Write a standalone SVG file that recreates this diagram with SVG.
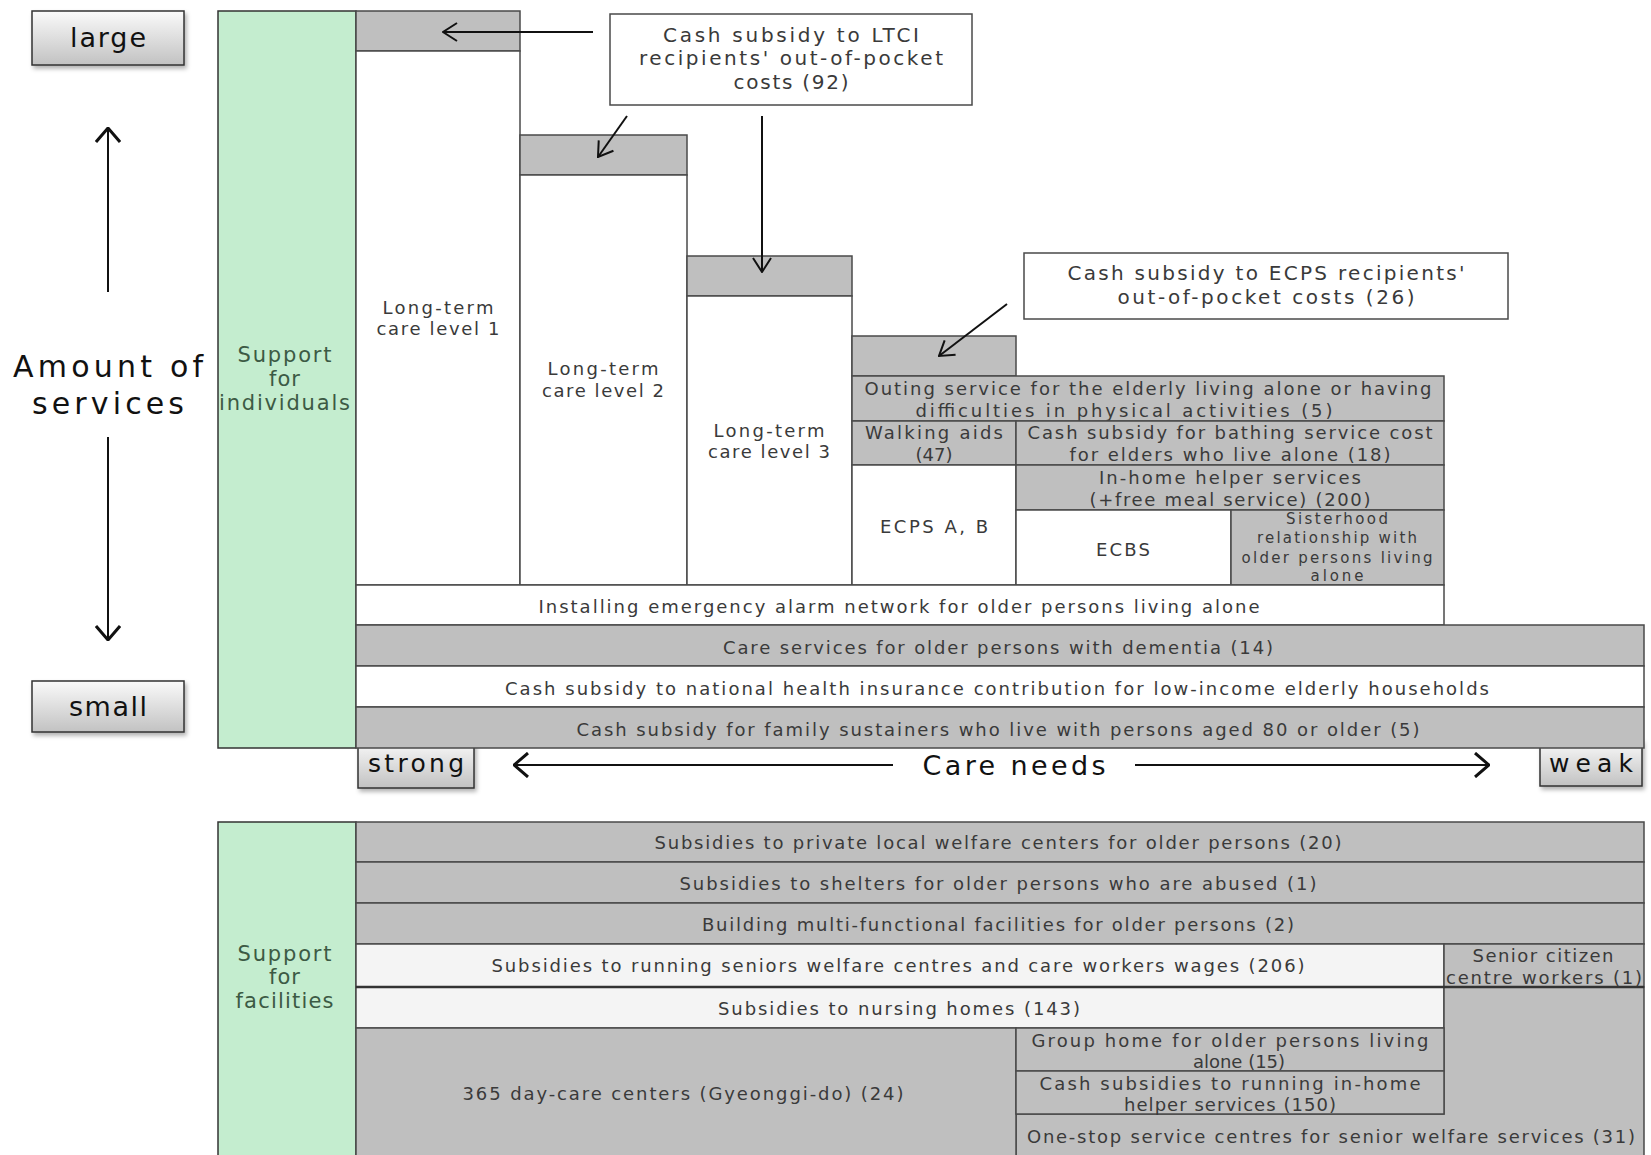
<svg xmlns="http://www.w3.org/2000/svg" width="1651" height="1155" viewBox="0 0 1651 1155">
<style>
.g{fill:#bfbfbf;stroke:#4a4a4a;stroke-width:1.5}
.w{fill:#ffffff;stroke:#4a4a4a;stroke-width:1.5}
.lt{fill:#f4f4f4;stroke:#4a4a4a;stroke-width:1.5}
.gr{fill:#c4edcf;stroke:#333;stroke-width:1.5}
.lb{fill:url(#lbg);stroke:#333;stroke-width:1.5;filter:url(#sh)}
.t{font-family:"DejaVu Sans","Noto Sans",sans-serif;font-size:18px;fill:#3a3a3a;text-anchor:middle;dominant-baseline:central}
.s{font-size:15px}
.m{font-size:20px}
.gt{fill:#3c5a44;font-size:21px;letter-spacing:1px}
.big{font-family:"DejaVu Sans","Liberation Sans",sans-serif;fill:#111;text-anchor:middle;dominant-baseline:central}
.ar{stroke:#111;stroke-width:2;fill:none}
</style>
<defs>
<linearGradient id="lbg" x1="0" y1="0" x2="0" y2="1">
<stop offset="0" stop-color="#fafafa"/>
<stop offset="1" stop-color="#c2c2c2"/>
</linearGradient>
<filter id="sh" x="-10%" y="-10%" width="130%" height="140%">
<feDropShadow dx="2" dy="3" stdDeviation="2" flood-color="#000" flood-opacity="0.3"/>
</filter>
<marker id="ah" viewBox="0 0 16 20" refX="15" refY="10" markerWidth="16" markerHeight="20" markerUnits="userSpaceOnUse" orient="auto">
<path d="M1,1 L15,10 L1,19" fill="none" stroke="#111" stroke-width="2"/>
</marker>
<marker id="ahb" viewBox="0 0 16 26" refX="15" refY="13" markerWidth="16" markerHeight="26" markerUnits="userSpaceOnUse" orient="auto">
<path d="M1,1 L15,13 L1,25" fill="none" stroke="#111" stroke-width="3"/>
</marker>
</defs>
<rect width="1651" height="1155" fill="#ffffff"/>

<!-- axis labels -->
<g id="large"><rect class="lb" x="32" y="11" width="152" height="54"/><text class="big" x="108" y="37" font-size="27" textLength="76" lengthAdjust="spacing">large</text></g>
<g id="small"><rect class="lb" x="32" y="681" width="152" height="51"/><text class="big" x="108" y="706" font-size="27" textLength="78" lengthAdjust="spacing">small</text></g>
<g id="amount"><text class="big" x="108" y="366" font-size="30" textLength="190" lengthAdjust="spacing">Amount of</text><text class="big" x="108" y="403" font-size="30" textLength="152" lengthAdjust="spacing">services</text></g>
<g id="strong"><rect class="lb" x="358" y="740" width="116" height="48"/><text class="big" x="416" y="763" font-size="25" textLength="96" lengthAdjust="spacing">strong</text></g>
<g id="weak"><rect class="lb" x="1540" y="740" width="102" height="46"/><text class="big" x="1591" y="763" font-size="25" textLength="84" lengthAdjust="spacing">weak</text></g>
<g id="careneeds"><text class="big" x="1014" y="765" font-size="27" textLength="183" lengthAdjust="spacing">Care needs</text></g>

<!-- support for individuals -->
<g id="individuals"><rect class="gr" x="218" y="11" width="138" height="737"/>
<text class="t gt" x="285" y="355" textLength="95" lengthAdjust="spacing">Support</text><text class="t gt" x="285" y="379">for</text><text class="t gt" x="285" y="403" textLength="132" lengthAdjust="spacing">individuals</text></g>

<g id="ltc1"><rect class="g" x="356" y="11" width="164" height="40"/><rect class="w" x="356" y="51" width="164" height="534"/>
<text class="t" x="438" y="307" textLength="111" lengthAdjust="spacing">Long-term</text><text class="t" x="438" y="328" textLength="123" lengthAdjust="spacing">care level 1</text></g>
<g id="ltc2"><rect class="g" x="520" y="135" width="167" height="40"/><rect class="w" x="520" y="175" width="167" height="410"/>
<text class="t" x="603" y="368" textLength="111" lengthAdjust="spacing">Long-term</text><text class="t" x="603" y="390" textLength="122" lengthAdjust="spacing">care level 2</text></g>
<g id="ltc3"><rect class="g" x="687" y="256" width="165" height="40"/><rect class="w" x="687" y="296" width="165" height="289"/>
<text class="t" x="769" y="430" textLength="111" lengthAdjust="spacing">Long-term</text><text class="t" x="769" y="451" textLength="122" lengthAdjust="spacing">care level 3</text></g>
<g id="ecpstop"><rect class="g" x="852" y="336" width="164" height="40"/></g>
<g id="outing"><rect class="g" x="852" y="376" width="592" height="45"/>
<text class="t" x="1148" y="388" textLength="567" lengthAdjust="spacing">Outing service for the elderly living alone or having</text>
<text class="t" x="1124" y="410" textLength="417" lengthAdjust="spacing">difficulties in physical activities (5)</text></g>
<g id="walking"><rect class="g" x="852" y="421" width="164" height="44"/>
<text class="t" x="934" y="432" textLength="138" lengthAdjust="spacing">Walking aids</text><text class="t" x="934" y="454">(47)</text></g>
<g id="bathing"><rect class="g" x="1016" y="421" width="428" height="44"/>
<text class="t" x="1230" y="432" textLength="405" lengthAdjust="spacing">Cash subsidy for bathing service cost</text>
<text class="t" x="1230" y="454" textLength="321" lengthAdjust="spacing">for elders who live alone (18)</text></g>
<g id="ecpsab"><rect class="w" x="852" y="465" width="164" height="120"/><text class="t" x="934" y="526" textLength="108" lengthAdjust="spacing">ECPS A, B</text></g>
<g id="inhome"><rect class="g" x="1016" y="465" width="428" height="45"/>
<text class="t" x="1230" y="477" textLength="262" lengthAdjust="spacing">In-home helper services</text>
<text class="t" x="1230" y="499" textLength="281" lengthAdjust="spacing">(+free meal service) (200)</text></g>
<g id="ecbs"><rect class="w" x="1016" y="510" width="215" height="75"/><text class="t" x="1123" y="549" textLength="54" lengthAdjust="spacing">ECBS</text></g>
<g id="sisterhood"><rect class="g" x="1231" y="510" width="213" height="75"/>
<text class="t s" x="1337" y="519" textLength="102" lengthAdjust="spacing">Sisterhood</text><text class="t s" x="1337" y="538" textLength="160" lengthAdjust="spacing">relationship with</text>
<text class="t s" x="1337" y="558" textLength="191" lengthAdjust="spacing">older persons living</text><text class="t s" x="1337" y="576" textLength="53" lengthAdjust="spacing">alone</text></g>
<g id="alarm"><rect class="w" x="356" y="585" width="1088" height="40"/>
<text class="t" x="899" y="606" textLength="721" lengthAdjust="spacing">Installing emergency alarm network for older persons living alone</text></g>
<g id="dementia"><rect class="g" x="356" y="625" width="1288" height="41"/>
<text class="t" x="998" y="647" textLength="550" lengthAdjust="spacing">Care services for older persons with dementia (14)</text></g>
<g id="nhi"><rect class="w" x="356" y="666" width="1288" height="41"/>
<text class="t" x="997" y="688" textLength="984" lengthAdjust="spacing">Cash subsidy to national health insurance contribution for low-income elderly households</text></g>
<g id="family"><rect class="g" x="356" y="707" width="1288" height="41"/>
<text class="t" x="998" y="729" textLength="843" lengthAdjust="spacing">Cash subsidy for family sustainers who live with persons aged 80 or older (5)</text></g>

<!-- callout boxes -->
<g id="ltci-callout"><rect class="w" x="610" y="14" width="362" height="91" stroke="#666"/>
<text class="t m" x="791" y="35" textLength="256" lengthAdjust="spacing">Cash subsidy to LTCI</text>
<text class="t m" x="791" y="58" textLength="304" lengthAdjust="spacing">recipients' out-of-pocket</text>
<text class="t m" x="791" y="82" textLength="115" lengthAdjust="spacing">costs (92)</text></g>
<g id="ecps-callout"><rect class="w" x="1024" y="253" width="484" height="66" stroke="#444"/>
<text class="t m" x="1266" y="273" textLength="397" lengthAdjust="spacing">Cash subsidy to ECPS recipients'</text>
<text class="t m" x="1266" y="297" font-size="21" textLength="297" lengthAdjust="spacing">out-of-pocket costs (26)</text></g>

<!-- support for facilities -->
<g id="facilities"><rect class="gr" x="218" y="822" width="138" height="345"/>
<text class="t gt" x="285" y="954" textLength="95" lengthAdjust="spacing">Support</text><text class="t gt" x="285" y="977">for</text><text class="t gt" x="285" y="1001" textLength="99" lengthAdjust="spacing">facilities</text></g>
<g id="f1"><rect class="g" x="356" y="822" width="1288" height="40"/>
<text class="t" x="998" y="842" textLength="687" lengthAdjust="spacing">Subsidies to private local welfare centers for older persons (20)</text></g>
<g id="f2"><rect class="g" x="356" y="862" width="1288" height="41"/>
<text class="t" x="998" y="883" textLength="637" lengthAdjust="spacing">Subsidies to shelters for older persons who are abused (1)</text></g>
<g id="f3"><rect class="g" x="356" y="903" width="1288" height="41"/>
<text class="t" x="998" y="924" textLength="592" lengthAdjust="spacing">Building multi-functional facilities for older persons (2)</text></g>
<g id="f4"><rect class="lt" x="356" y="944" width="1088" height="43"/>
<text class="t" x="898" y="965" textLength="813" lengthAdjust="spacing">Subsidies to running seniors welfare centres and care workers wages (206)</text></g>
<g id="f-senior"><rect class="g" x="1444" y="944" width="200" height="43"/>
<text class="t" x="1543" y="955" textLength="141" lengthAdjust="spacing">Senior citizen</text>
<text class="t" x="1544" y="977" textLength="196" lengthAdjust="spacing">centre workers (1)</text></g>
<g id="f5"><rect class="lt" x="356" y="987" width="1088" height="41"/>
<text class="t" x="899" y="1008" textLength="362" lengthAdjust="spacing">Subsidies to nursing homes (143)</text></g>
<g id="f-onestop"><path class="g" d="M1444,987 H1644 V1165 H1016 V1114 H1444 Z"/>
<text class="t" x="1331" y="1136" textLength="608" lengthAdjust="spacing">One-stop service centres for senior welfare services (31)</text></g>
<g id="f-365"><rect class="g" x="356" y="1028" width="660" height="140"/>
<text class="t" x="683" y="1093" textLength="441" lengthAdjust="spacing">365 day-care centers (Gyeonggi-do) (24)</text></g>
<g id="f-group"><rect class="g" x="1016" y="1028" width="428" height="43"/>
<text class="t" x="1230" y="1040" textLength="397" lengthAdjust="spacing">Group home for older persons living</text>
<text class="t" x="1239" y="1061">alone (15)</text></g>
<g id="f-cashhelper"><rect class="g" x="1016" y="1071" width="428" height="43"/>
<text class="t" x="1230" y="1083" textLength="381" lengthAdjust="spacing">Cash subsidies to running in-home</text>
<text class="t" x="1230" y="1104" textLength="212" lengthAdjust="spacing">helper services (150)</text></g>
<line x1="356" y1="987" x2="1644" y2="987" stroke="#333" stroke-width="2.5"/>

<!-- connectors -->
<g id="connectors">
<line class="ar" x1="593" y1="32" x2="443" y2="32" marker-end="url(#ah)"/>
<line class="ar" x1="627" y1="116" x2="598" y2="157" marker-end="url(#ah)"/>
<line class="ar" x1="762" y1="116" x2="762" y2="272" marker-end="url(#ah)"/>
<line class="ar" x1="1007" y1="304" x2="939" y2="356" marker-end="url(#ah)"/>
<line class="ar" stroke-width="3" x1="108" y1="292" x2="108" y2="128" marker-end="url(#ahb)"/>
<line class="ar" stroke-width="3" x1="108" y1="437" x2="108" y2="640" marker-end="url(#ahb)"/>
<line class="ar" x1="893" y1="765" x2="514" y2="765" marker-end="url(#ahb)"/>
<line class="ar" x1="1135" y1="765" x2="1489" y2="765" marker-end="url(#ahb)"/>
</g>
</svg>
